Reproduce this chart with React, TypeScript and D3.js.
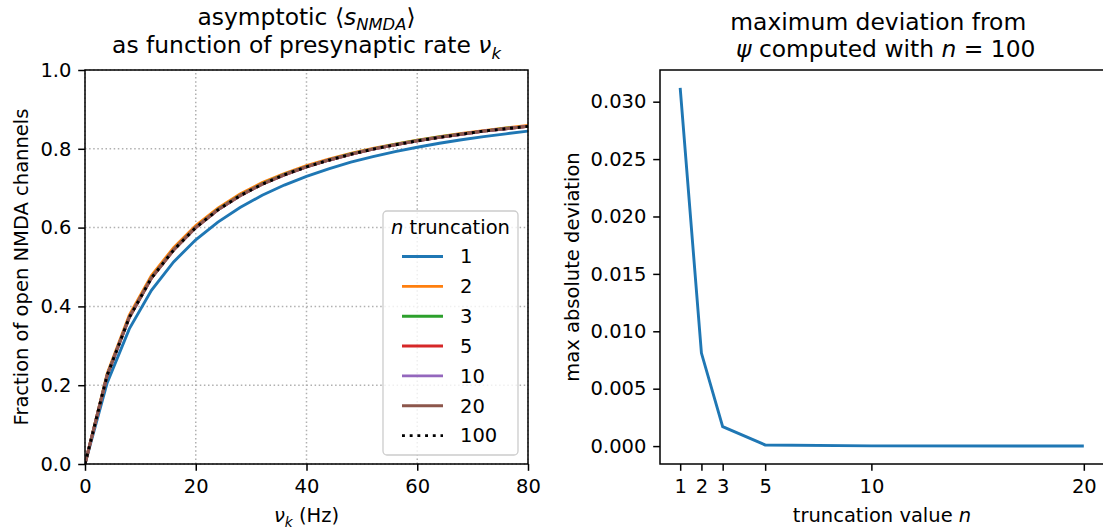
import React, { useEffect, useRef } from 'react';
import * as d3 from 'd3';

// presynaptic rate samples (Hz)
const rates = [0, 4, 8, 12, 16, 20, 24, 28, 32, 36, 40, 44, 48, 52, 56, 60, 64, 68, 72, 76, 80];

// asymptotic <s_NMDA> for each truncation n
const sN1 = [0, 0.206, 0.343, 0.441, 0.513, 0.569, 0.614, 0.651, 0.682, 0.708, 0.730, 0.749, 0.766, 0.780, 0.793, 0.804, 0.814, 0.823, 0.831, 0.838, 0.845];
const sN2 = [0, 0.229, 0.378, 0.478, 0.549, 0.605, 0.649, 0.685, 0.714, 0.737, 0.757, 0.774, 0.788, 0.801, 0.812, 0.822, 0.831, 0.839, 0.846, 0.853, 0.859];
const sN3 = [0, 0.226, 0.373, 0.473, 0.544, 0.601, 0.646, 0.682, 0.711, 0.735, 0.755, 0.772, 0.787, 0.800, 0.811, 0.821, 0.830, 0.838, 0.845, 0.852, 0.857];
const sN5 = [0, 0.225, 0.372, 0.472, 0.543, 0.600, 0.645, 0.681, 0.710, 0.734, 0.754, 0.771, 0.786, 0.799, 0.810, 0.820, 0.829, 0.837, 0.845, 0.851, 0.857];
const sN10 = [0, 0.225, 0.372, 0.472, 0.543, 0.600, 0.645, 0.681, 0.710, 0.734, 0.754, 0.771, 0.786, 0.799, 0.810, 0.820, 0.829, 0.837, 0.845, 0.851, 0.857];
const sN20 = [0, 0.225, 0.372, 0.472, 0.543, 0.600, 0.645, 0.681, 0.710, 0.734, 0.754, 0.771, 0.786, 0.799, 0.810, 0.820, 0.829, 0.837, 0.845, 0.851, 0.857];
const sN100 = [0, 0.225, 0.372, 0.472, 0.543, 0.600, 0.645, 0.681, 0.710, 0.734, 0.754, 0.771, 0.786, 0.799, 0.810, 0.820, 0.829, 0.837, 0.845, 0.851, 0.857];
const truncLabels = ['1', '2', '3', '5', '10', '20', '100'];

// max deviation from n = 100
const truncValues = [1, 2, 3, 5, 10, 20];
const maxDeviation = [0.0312, 0.0081, 0.0017, 0.0001, 0.00002, 0.000005];

const leftXTicks = [0, 20, 40, 60, 80];
const leftYTicks = [0, 0.2, 0.4, 0.6, 0.8, 1.0];
const rightYTicks = [0, 0.005, 0.01, 0.015, 0.02, 0.025, 0.03];

const colors = ['#1f77b4', '#ff7f0e', '#2ca02c', '#d62728', '#9467bd', '#8c564b', '#000000'];
const FONT = '"DejaVu Sans", sans-serif';
const FS = 19.5;
const TITLE_FS = 23.4;
const LW = 2.9;
const DOTS = '2.9,4.8';

function styleAxis(g) {
  g.select('.domain').remove();
  g.selectAll('.tick line').attr('stroke', '#000').attr('stroke-width', 1.5);
  g.selectAll('.tick text').attr('fill', '#000').attr('font-size', FS).attr('font-family', FONT);
}

function drawChart(el) {
  const svg = d3.select(el);
  svg.selectAll('*').remove();

  // ---------- left panel ----------
  const x = d3.scaleLinear().domain([0, 80]).range([85, 528]);
  const y = d3.scaleLinear().domain([0, 1]).range([464, 70]);

  const grid = svg.append('g');
  grid.selectAll('.gx').data(leftXTicks).enter().append('line')
    .attr('x1', d => x(d)).attr('x2', d => x(d)).attr('y1', y(0)).attr('y2', y(1))
    .attr('stroke', '#b0b0b0').attr('stroke-width', 1.5).attr('stroke-dasharray', '1.5,2.6');
  grid.selectAll('.gy').data(leftYTicks).enter().append('line')
    .attr('x1', x(0)).attr('x2', x(80)).attr('y1', d => y(d)).attr('y2', d => y(d))
    .attr('stroke', '#b0b0b0').attr('stroke-width', 1.5).attr('stroke-dasharray', '1.5,2.6');

  const series = [sN1, sN2, sN3, sN5, sN10, sN20, sN100];
  const line = d3.line().x((d, i) => x(rates[i])).y(d => y(d));
  svg.append('defs').append('clipPath').attr('id', 'clipL')
    .append('rect').attr('x', x(0)).attr('y', y(1)).attr('width', x(80) - x(0)).attr('height', y(0) - y(1));
  const lines = svg.append('g').attr('clip-path', 'url(#clipL)');
  series.forEach((s, i) => {
    lines.append('path')
      .attr('d', line(s))
      .attr('fill', 'none')
      .attr('stroke', colors[i])
      .attr('stroke-width', LW)
      .attr('stroke-dasharray', i === 6 ? DOTS : null);
  });

  svg.append('g').attr('transform', `translate(0,${y(0)})`)
    .call(d3.axisBottom(x).tickValues(leftXTicks).tickFormat(d3.format('d')).tickSize(6.8).tickPadding(8.5))
    .call(styleAxis);
  svg.append('g').attr('transform', `translate(${x(0)},0)`)
    .call(d3.axisLeft(y).tickValues(leftYTicks).tickFormat(d3.format('.1f')).tickSize(6.8).tickPadding(6.8))
    .call(styleAxis);

  svg.append('rect').attr('x', x(0)).attr('y', y(1)).attr('width', x(80) - x(0)).attr('height', y(0) - y(1))
    .attr('fill', 'none').attr('stroke', '#000').attr('stroke-width', 1.5);

  // titles + labels
  const cxL = (x(0) + x(80)) / 2;
  const t1 = svg.append('text').attr('x', cxL).attr('y', 25).attr('text-anchor', 'middle')
    .attr('font-size', TITLE_FS).attr('font-family', FONT);
  t1.append('tspan').text('asymptotic \u27E8');
  t1.append('tspan').attr('font-style', 'italic').text('s');
  t1.append('tspan').attr('font-style', 'italic').attr('font-size', TITLE_FS * 0.7).attr('dy', 4.5).text('NMDA');
  t1.append('tspan').attr('dy', -4.5).text('\u27E9');
  const t2 = svg.append('text').attr('x', cxL).attr('y', 53).attr('text-anchor', 'middle')
    .attr('font-size', TITLE_FS).attr('font-family', FONT);
  t2.append('tspan').text('as function of presynaptic rate ');
  t2.append('tspan').attr('font-style', 'italic').text('\u03BD');
  t2.append('tspan').attr('font-style', 'italic').attr('font-size', TITLE_FS * 0.7).attr('dy', 5.5).text('k');

  const xl = svg.append('text').attr('x', cxL).attr('y', 522).attr('text-anchor', 'middle')
    .attr('font-size', FS).attr('font-family', FONT);
  xl.append('tspan').attr('font-style', 'italic').text('\u03BD');
  xl.append('tspan').attr('font-style', 'italic').attr('font-size', FS * 0.7).attr('dy', 4.5).text('k');
  xl.append('tspan').attr('dy', -4.5).text(' (Hz)');

  svg.append('text').attr('transform', `translate(28,${(y(0) + y(1)) / 2}) rotate(-90)`)
    .attr('text-anchor', 'middle').attr('font-size', FS).attr('font-family', FONT)
    .text('Fraction of open NMDA channels');

  // legend
  const lg = svg.append('g').attr('transform', `translate(383,211)`);
  lg.append('rect').attr('width', 135).attr('height', 244).attr('rx', 4)
    .attr('fill', '#fff').attr('fill-opacity', 0.8).attr('stroke', '#cccccc').attr('stroke-width', 1.3);
  const lt = lg.append('text').attr('x', 67.5).attr('y', 23).attr('text-anchor', 'middle')
    .attr('font-size', FS).attr('font-family', FONT);
  lt.append('tspan').attr('font-style', 'italic').text('n');
  lt.append('tspan').text(' truncation');
  truncLabels.forEach((lab, i) => {
    const ry = 45.5 + i * 29.85;
    lg.append('line').attr('x1', 19).attr('x2', 60).attr('y1', ry).attr('y2', ry)
      .attr('stroke', colors[i]).attr('stroke-width', LW)
      .attr('stroke-dasharray', i === 6 ? DOTS : null);
    lg.append('text').attr('x', 77).attr('y', ry).attr('dy', '0.35em')
      .attr('font-size', FS).attr('font-family', FONT).text(lab);
  });

  // ---------- right panel ----------
  const x2 = d3.scaleLinear().domain([0.05, 20.95]).range([660, 1104]);
  const yMax = d3.max(maxDeviation);
  const y2 = d3.scaleLinear().domain([-yMax * 0.05, yMax * 1.05]).range([464, 70]);

  svg.append('path')
    .attr('d', d3.line().x((d, i) => x2(truncValues[i])).y(d => y2(d))(maxDeviation))
    .attr('fill', 'none').attr('stroke', colors[0]).attr('stroke-width', LW);

  svg.append('g').attr('transform', `translate(0,464)`)
    .call(d3.axisBottom(x2).tickValues(truncValues).tickFormat(d3.format('d')).tickSize(6.8).tickPadding(8.5))
    .call(styleAxis);
  svg.append('g').attr('transform', `translate(660,0)`)
    .call(d3.axisLeft(y2).tickValues(rightYTicks).tickFormat(d3.format('.3f')).tickSize(6.8).tickPadding(6.8))
    .call(styleAxis);

  svg.append('rect').attr('x', 660).attr('y', 70).attr('width', 444).attr('height', 394)
    .attr('fill', 'none').attr('stroke', '#000').attr('stroke-width', 1.5);

  const cxR = 882;
  svg.append('text').attr('x', cxR).attr('y', 30).attr('text-anchor', 'middle')
    .attr('font-size', TITLE_FS).attr('font-family', FONT).style('white-space', 'pre')
    .text('maximum deviation from ');
  const r2 = svg.append('text').attr('x', cxR).attr('y', 57).attr('text-anchor', 'middle')
    .attr('font-size', TITLE_FS).attr('font-family', FONT).style('white-space', 'pre');
  r2.append('tspan').text(' ');
  r2.append('tspan').attr('font-style', 'italic').text('\u03C8');
  r2.append('tspan').text(' computed with ');
  r2.append('tspan').attr('font-style', 'italic').text('n');
  r2.append('tspan').text(' = 100');

  const xr = svg.append('text').attr('x', cxR).attr('y', 522).attr('text-anchor', 'middle')
    .attr('font-size', FS).attr('font-family', FONT);
  xr.append('tspan').text('truncation value ');
  xr.append('tspan').attr('font-style', 'italic').text('n');

  svg.append('text').attr('transform', `translate(579,${(464 + 70) / 2}) rotate(-90)`)
    .attr('text-anchor', 'middle').attr('font-size', FS).attr('font-family', FONT)
    .text('max absolute deviation');
}

export default function App() {
  const ref = useRef(null);
  useEffect(() => {
    drawChart(ref.current);
  }, []);
  return (
    <svg ref={ref} width={1103} height={529}
      style={{ position: 'absolute', left: 0, top: 0, background: '#fff' }} />
  );
}
